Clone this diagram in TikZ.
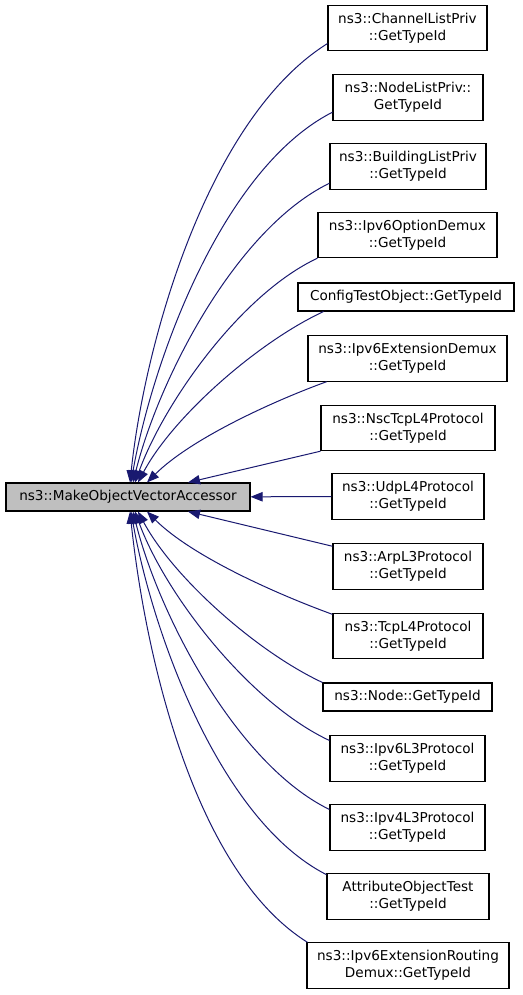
\documentclass[tikz,border=0pt]{standalone}
\usepackage{fontspec}
\setmainfont{DejaVu Sans}
\usetikzlibrary{arrows.meta,calc}
\definecolor{edgeblue}{RGB}{25,25,112}
\tikzset{
  node-main/.style={draw,fill=black!25,rectangle,minimum width=183pt,minimum height=21pt,inner sep=0pt,line width=0.8pt},
  node-leaf/.style={draw,fill=white,rectangle,align=center,minimum height=34pt,inner sep=0pt,line width=0.8pt},
  node-one/.style={node-leaf,minimum height=21pt},
  call/.style={-{Triangle[length=9pt,width=7pt]},line width=0.75pt,edgeblue,looseness=0.75},
}

\begin{document}
\begin{tikzpicture}[x=0.75pt,y=0.75pt,font=\fontsize{10.2pt}{12.8pt}\selectfont]
  \useasboundingbox (0,0) rectangle (523,-995);

  % the function itself
  \node[node-main] (main) at (128,-497) {ns3::MakeObjectVectorAccessor};

  % callers
  \node[node-leaf,minimum width=119.25pt] (c1)  at (407.5,-28)   {ns3::ChannelListPriv\\::GetTypeId};
  \node[node-leaf,minimum width=112.5pt]  (c2)  at (408,-97.5)   {ns3::NodeListPriv::\\GetTypeId};
  \node[node-leaf,minimum width=117pt]    (c3)  at (408,-166.5)  {ns3::BuildingListPriv\\::GetTypeId};
  \node[node-leaf,minimum width=134.25pt] (c4)  at (407.5,-235)  {ns3::Ipv6OptionDemux\\::GetTypeId};
  \node[node-one,minimum width=162pt]     (c5)  at (406,-297)    {ConfigTestObject::GetTypeId};
  \node[node-leaf,minimum width=149.25pt] (c6)  at (407.5,-358.5) {ns3::Ipv6ExtensionDemux\\::GetTypeId};
  \node[node-leaf,minimum width=130.5pt]  (c7)  at (408,-428)    {ns3::NscTcpL4Protocol\\::GetTypeId};
  \node[node-leaf,minimum width=114pt]    (c8)  at (408,-496.5)  {ns3::UdpL4Protocol\\::GetTypeId};
  \node[node-leaf,minimum width=112.5pt]  (c9)  at (408,-566.5)  {ns3::ArpL3Protocol\\::GetTypeId};
  \node[node-leaf,minimum width=112.5pt]  (c10) at (408,-636)    {ns3::TcpL4Protocol\\::GetTypeId};
  \node[node-one,minimum width=126.75pt]  (c11) at (407.5,-697)  {ns3::Node::GetTypeId};
  \node[node-leaf,minimum width=116.25pt] (c12) at (407.5,-758.5) {ns3::Ipv6L3Protocol\\::GetTypeId};
  \node[node-leaf,minimum width=116.25pt] (c13) at (407.5,-827.5) {ns3::Ipv4L3Protocol\\::GetTypeId};
  \node[node-leaf,minimum width=121.5pt]  (c14) at (408,-896.5)  {AttributeObjectTest\\::GetTypeId};
  \node[node-leaf,minimum width=151.5pt]  (c15) at (408,-965.5)  {ns3::Ipv6ExtensionRouting\\Demux::GetTypeId};

  % calls into the accessor, upper fan
  \draw[call] (c1.191)        to[out=212,in=84] ($(main.north)+(2,0)$);
  \draw[call] (c2.191)        to[out=207,in=80] ($(main.north)+(3,0)$);
  \draw[call] (c3.192)        to[out=206,in=76] ($(main.north)+(5,0)$);
  \draw[call] (c4.south west) to[out=205,in=70] ($(main.north)+(7,0)$);
  \draw[call] (c5.190)        to[out=205,in=62] ($(main.north)+(10,0)$);
  \draw[call] (c6.196)        to[out=200,in=45] ($(main.north)+(19,0)$);
  \draw[call] (c7.south west) -- ($(main.north)+(60,0)$);

  % straight in
  \draw[call] (c8) -- (main);

  % lower fan
  \draw[call] (c9.165)         -- ($(main.south)+(60,0)$);
  \draw[call] (c10.164)        to[out=160,in=-45] ($(main.south)+(19,0)$);
  \draw[call] (c11.north west) to[out=155,in=-62] ($(main.south)+(10,0)$);
  \draw[call] (c12.167)        to[out=155,in=-70] ($(main.south)+(7,0)$);
  \draw[call] (c13.167)        to[out=154,in=-76] ($(main.south)+(5,0)$);
  \draw[call] (c14.165)        to[out=153,in=-80] ($(main.south)+(3,0)$);
  \draw[call] (c15.167)        to[out=148,in=-84] ($(main.south)+(2,0)$);

\end{tikzpicture}
\end{document}
